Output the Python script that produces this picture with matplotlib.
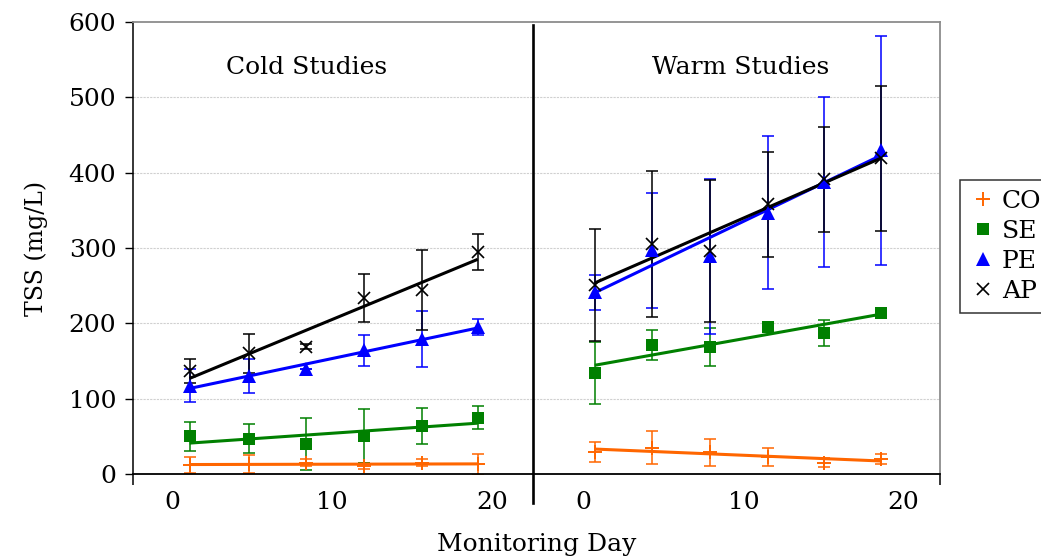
import numpy as np
import matplotlib
matplotlib.use("Agg")
import matplotlib.pyplot as plt
from matplotlib.lines import Line2D

plt.rcParams['font.family'] = ['DejaVu Serif']

# Monitoring days of each sampling event
days_cold = [1.1, 4.8, 8.4, 12.0, 15.6, 19.1]
days_warm = [0.7, 4.3, 7.9, 11.5, 15.0, 18.6]

# TSS means (mg/L) and error bar half-widths, cold studies
co_cold = [12, 13, 15, 10, 15, 13]
co_cold_err = [11, 12, 5, 4, 5, 14]
se_cold = [50, 47, 40, 50, 64, 75]
se_cold_err = [19, 19, 35, 36, 24, 15]
pe_cold = [117, 130, 139, 164, 179, 195]
pe_cold_err = [22, 23, 0, 21, 37, 11]
ap_cold = [137, 160, 169, 234, 244, 295]
ap_cold_err = [16, 26, 3, 32, 53, 24]

# TSS means (mg/L) and error bar half-widths, warm studies
co_warm = [29, 35, 29, 23, 15, 20]
co_warm_err = [13, 22, 18, 12, 6, 7]
se_warm = [134, 171, 169, 195, 187, 214]
se_warm_err = [41, 20, 25, 5, 17, 5]
pe_warm = [241, 297, 289, 347, 388, 430]
pe_warm_err = [23, 76, 103, 102, 113, 152]
ap_warm = [251, 305, 296, 358, 391, 419]
ap_warm_err = [74, 97, 94, 70, 70, 96]

series_names = ["CO", "SE", "PE", "AP"]
y_ticks = [0, 100, 200, 300, 400, 500, 600]
x_ticks = [0, 10, 20]

styles = {
    "CO": dict(color="#FF6600", marker="+", ms=10, mew=1.4),
    "SE": dict(color="#008000", marker="s", ms=8.5, mew=0),
    "PE": dict(color="#0000FF", marker="^", ms=10, mew=0),
    "AP": dict(color="#000000", marker="x", ms=8, mew=1.2),
}

W, H = 1041, 558
fig = plt.figure(figsize=(W / 100, H / 100), dpi=100)

def fx(px):
    return px / W

def fy(py):
    return 1 - py / H

x_left, x_div, x_right = 133, 532.7, 940
y_top, y_bot = 22, 474

ax_c = fig.add_axes([fx(x_left), fy(y_bot), fx(x_div - x_left), (y_bot - y_top) / H])
ax_w = fig.add_axes([fx(x_div), fy(y_bot), fx(x_right - x_div), (y_bot - y_top) / H])

panels = [
    (ax_c, days_cold, [(co_cold, co_cold_err), (se_cold, se_cold_err),
                       (pe_cold, pe_cold_err), (ap_cold, ap_cold_err)],
     (-2.44, 22.54)),
    (ax_w, days_warm, [(co_warm, co_warm_err), (se_warm, se_warm_err),
                       (pe_warm, pe_warm_err), (ap_warm, ap_warm_err)],
     (-3.18, 22.28)),
]

for ax, days, data, xlim in panels:
    ax.set_xlim(*xlim)
    ax.set_ylim(0, 600)
    for yv in y_ticks[1:-1]:
        ax.axhline(yv, color="#d0d0d0", lw=0.8, ls=(0, (2, 1)), zorder=0)
    x = np.array(days)
    for name, (vals, err) in zip(series_names, data):
        st = styles[name]
        ax.errorbar(x, vals, yerr=err, fmt="none", ecolor=st["color"],
                    elinewidth=1.1, capsize=4.5, capthick=1.1, zorder=2)
        # least-squares trend line over the sampling period
        k, b = np.polyfit(x, vals, 1)
        ax.plot([x[0], x[-1]], [k * x[0] + b, k * x[-1] + b],
                color=st["color"], lw=2.2, zorder=3, solid_capstyle="butt")
        ax.plot(x, vals, ls="none", marker=st["marker"], ms=st["ms"],
                mew=st["mew"], color=st["color"], zorder=4)
    ax.set_xticks(x_ticks)
    ax.tick_params(axis="x", which="major", length=0, pad=12, labelsize=18)
    ax.spines["top"].set_color("#8c8c8c")
    ax.spines["top"].set_linewidth(1.3)
    ax.spines["bottom"].set_color("black")
    ax.spines["bottom"].set_linewidth(1.3)

# Panel titles
fig.text(fx(307), fy(68), "Cold Studies", ha="center", va="center", fontsize=18)
fig.text(fx(741), fy(68), "Warm Studies", ha="center", va="center", fontsize=18)

# Cold panel axes
ax_c.spines["right"].set_visible(False)
ax_c.spines["left"].set_color("black")
ax_c.spines["left"].set_linewidth(1.1)
ax_c.set_yticks(y_ticks)
ax_c.tick_params(axis="y", direction="out", length=6, width=1.0, pad=6, labelsize=18)
ax_c.set_xticks([ax_c.get_xlim()[0]], minor=True)
ax_c.tick_params(axis="x", which="minor", direction="out", length=8, width=1.1)
ax_c.set_ylabel("TSS (mg/L)", fontsize=17, labelpad=15)

# Warm panel axes
ax_w.spines["left"].set_visible(False)
ax_w.spines["right"].set_color("#8c8c8c")
ax_w.spines["right"].set_linewidth(1.3)
ax_w.set_yticks(y_ticks)
ax_w.tick_params(axis="y", length=0, labelleft=False)
ax_w.set_xticks([ax_w.get_xlim()[1]], minor=True)
ax_w.tick_params(axis="x", which="minor", direction="out", length=8, width=1.1)

# Divider between the two study periods
fig.add_artist(Line2D([fx(x_div), fx(x_div)], [fy(25), fy(503)],
                      color="black", lw=1.9, transform=fig.transFigure))

fig.text(fx(537), fy(545), "Monitoring Day", ha="center", va="center", fontsize=18)

# Legend
handles = [Line2D([], [], ls="none", marker=styles[n]["marker"],
                  ms=styles[n]["ms"], mew=styles[n]["mew"],
                  color=styles[n]["color"]) for n in series_names]
leg = fig.legend(handles, series_names, loc="upper left",
                 bbox_to_anchor=(fx(959.5), fy(179.5)),
                 frameon=True, fancybox=False, fontsize=18,
                 handlelength=1.1, handletextpad=0.2, borderpad=0.4,
                 labelspacing=0.28, borderaxespad=0)
leg.get_frame().set_edgecolor("black")
leg.get_frame().set_linewidth(1.1)

fig.savefig("out.png", dpi=100)
